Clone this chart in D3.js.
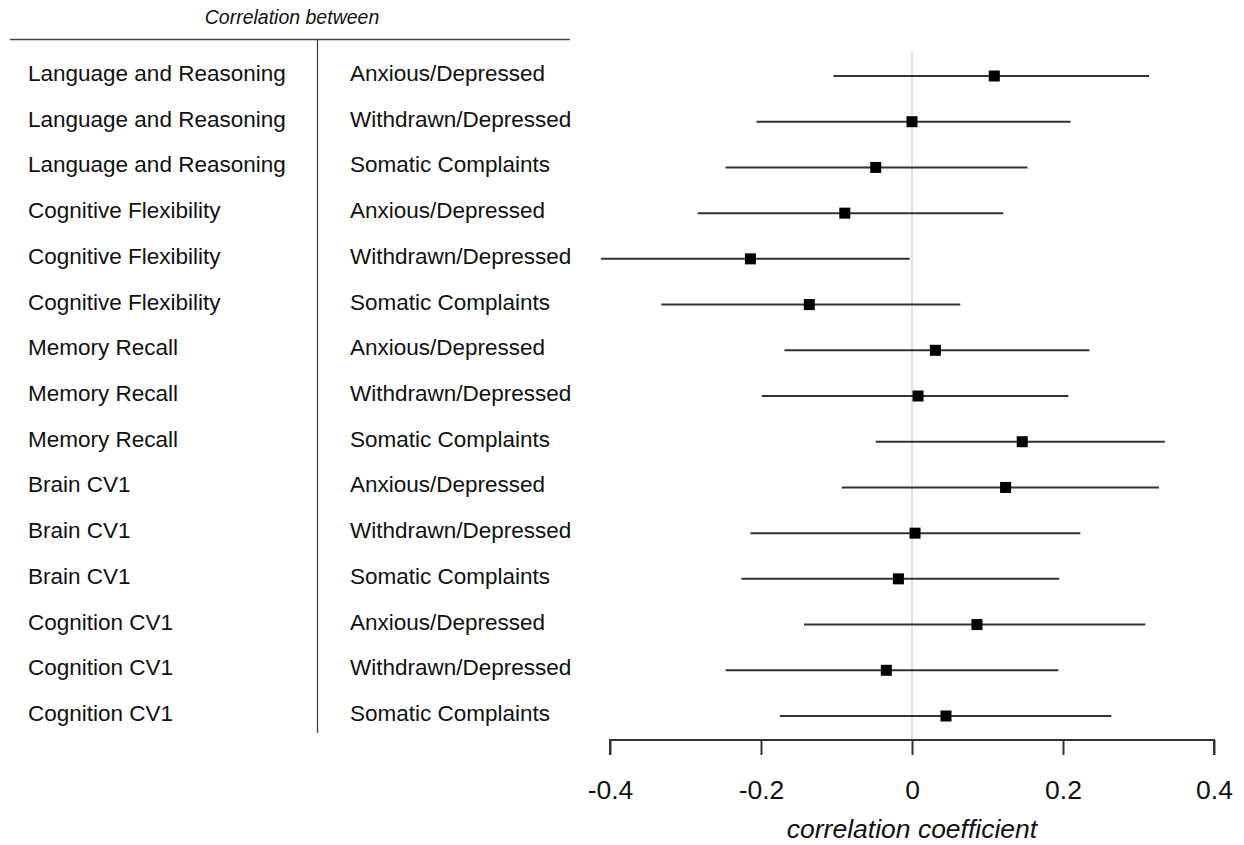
<!DOCTYPE html>
<html>
<head>
<meta charset="utf-8">
<script src="https://cdn.jsdelivr.net/npm/d3@7"></script>
<style>
  body { margin: 0; background: #fff; }
  text { font-family: "Liberation Sans", Arial, sans-serif; fill: #111; }
</style>
</head>
<body>
<div id="chart"></div>
<script>
// data
const measures = [
  "Language and Reasoning", "Language and Reasoning", "Language and Reasoning",
  "Cognitive Flexibility", "Cognitive Flexibility", "Cognitive Flexibility",
  "Memory Recall", "Memory Recall", "Memory Recall",
  "Brain CV1", "Brain CV1", "Brain CV1",
  "Cognition CV1", "Cognition CV1", "Cognition CV1"
];
const outcomes = [
  "Anxious/Depressed", "Withdrawn/Depressed", "Somatic Complaints",
  "Anxious/Depressed", "Withdrawn/Depressed", "Somatic Complaints",
  "Anxious/Depressed", "Withdrawn/Depressed", "Somatic Complaints",
  "Anxious/Depressed", "Withdrawn/Depressed", "Somatic Complaints",
  "Anxious/Depressed", "Withdrawn/Depressed", "Somatic Complaints"
];
const estimate = [0.109, 0.000, -0.048, -0.089, -0.214, -0.136, 0.031, 0.008, 0.146, 0.124, 0.004, -0.018, 0.086, -0.034, 0.045];
const lower    = [-0.104, -0.206, -0.247, -0.284, -0.412, -0.332, -0.169, -0.199, -0.048, -0.093, -0.214, -0.226, -0.143, -0.247, -0.175];
const upper    = [0.314, 0.210, 0.153, 0.121, -0.003, 0.064, 0.235, 0.207, 0.335, 0.327, 0.223, 0.195, 0.309, 0.194, 0.264];
const xTicks = [-0.4, -0.2, 0, 0.2, 0.4];

const width = 1244, height = 845;
const svg = d3.select('#chart').append('svg')
    .attr('width', width)
    .attr('height', height);

const rows = d3.range(measures.length);
const x = d3.scaleLinear().domain([-0.4, 0.4]).range([610, 1214]);
const y = d3.scalePoint().domain(rows).range([76, 716]);

// table header
svg.append('text')
    .attr('x', 292).attr('y', 24)
    .attr('text-anchor', 'middle')
    .style('font-style', 'italic')
    .style('font-size', '19.5px')
    .text('Correlation between');
svg.append('line')
    .attr('x1', 10).attr('x2', 570)
    .attr('y1', 39.5).attr('y2', 39.5)
    .attr('stroke', '#444').attr('stroke-width', 1.3);
svg.append('line')
    .attr('x1', 317.5).attr('x2', 317.5)
    .attr('y1', 40).attr('y2', 733)
    .attr('stroke', '#444').attr('stroke-width', 1.3);

// table columns
svg.selectAll('text.measure')
    .data(rows).join('text')
    .attr('class', 'measure')
    .attr('x', 28)
    .attr('y', i => y(i) + 5)
    .style('font-size', '22.5px')
    .text(i => measures[i]);
svg.selectAll('text.outcome')
    .data(rows).join('text')
    .attr('class', 'outcome')
    .attr('x', 350)
    .attr('y', i => y(i) + 5)
    .style('font-size', '22.5px')
    .text(i => outcomes[i]);

// zero reference line
svg.append('line')
    .attr('x1', x(0)).attr('x2', x(0))
    .attr('y1', 52).attr('y2', 740)
    .attr('stroke', '#d6d6d6').attr('stroke-width', 1.5);

// confidence intervals
svg.selectAll('line.ci')
    .data(rows).join('line')
    .attr('class', 'ci')
    .attr('x1', i => x(lower[i]))
    .attr('x2', i => x(upper[i]))
    .attr('y1', i => y(i)).attr('y2', i => y(i))
    .attr('stroke', '#333').attr('stroke-width', 2);

// point estimates
const sq = 11;
svg.selectAll('rect.pt')
    .data(rows).join('rect')
    .attr('class', 'pt')
    .attr('x', i => x(estimate[i]) - sq / 2)
    .attr('y', i => y(i) - sq / 2)
    .attr('width', sq).attr('height', sq)
    .attr('fill', '#000');

// x axis
const axis = svg.append('g')
    .attr('transform', 'translate(0,740)')
    .call(d3.axisBottom(x).tickValues(xTicks).tickSize(15).tickPadding(25)
        .tickFormat(d => d === 0 ? '0' : String(d)));
axis.select('.domain').attr('stroke', '#333').attr('stroke-width', 2)
    .attr('d', `M${x(-0.4)},15V0H${x(0.4)}V15`);
axis.selectAll('.tick line').attr('stroke', '#333').attr('stroke-width', 2);
axis.selectAll('.tick text')
    .style('font-family', '"Liberation Sans", Arial, sans-serif')
    .style('font-size', '26.5px')
    .attr('fill', '#111');

svg.append('text')
    .attr('x', x(0)).attr('y', 838)
    .attr('text-anchor', 'middle')
    .style('font-style', 'italic')
    .style('font-size', '26.5px')
    .text('correlation coefficient');
</script>
</body>
</html>
